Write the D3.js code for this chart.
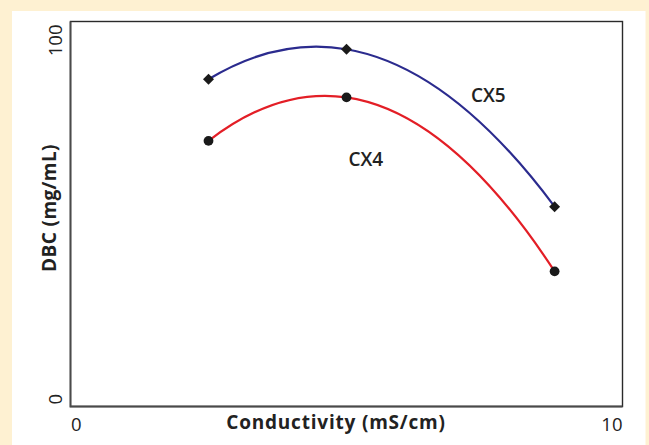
<!DOCTYPE html>
<html><head><meta charset="utf-8">
<script src="https://cdn.jsdelivr.net/npm/d3@7"></script>
<style>
html,body{margin:0;padding:0;background:#FEF1D2;}
svg{display:block;}
</style></head>
<body>
<svg id="chart" width="649" height="445"></svg>
<script>
const conductivity = [2.5, 5.0, 8.77];
const cx5 = [85.0, 92.8, 51.9];
const cx4 = [69.0, 80.3, 35.1];
const seriesNames = ["CX5", "CX4"];
const xTicks = [0, 10];
const yTicks = [0, 100];
const xTitle = "Conductivity (mS/cm)";
const yTitle = "DBC (mg/mL)";

const svg = d3.select("#chart");
const W = 649, H = 445;
const m = {left: 70.5, top: 21.5, right: 622.5, bottom: 406.5};
const font = "'Open Sans', 'Noto Sans', sans-serif";

svg.append("rect").attr("width", W).attr("height", H).attr("fill", "#FEF1D2");
svg.append("rect").attr("x", 12).attr("y", 11).attr("width", 633.5).attr("height", H - 11).attr("fill", "#fff");

const x = d3.scaleLinear().domain([0, 10]).range([m.left, m.right]);
const y = d3.scaleLinear().domain([0, 100]).range([m.bottom, m.top]);

// frame
svg.append("rect").attr("x", m.left).attr("y", m.top)
  .attr("width", m.right - m.left).attr("height", m.bottom - m.top)
  .attr("fill", "none").attr("stroke", "#2a2a2a").attr("stroke-width", 1.4);
svg.append("path").attr("d", `M${m.left},${m.top}V${m.bottom}H${m.right}`)
  .attr("fill", "none").attr("stroke", "#4a4a4a").attr("stroke-width", 1.8);

// tick labels
svg.append("g").selectAll("text").data(xTicks).join("text")
  .attr("x", (d, i) => i === 0 ? x(d) + 0.5 : x(d))
  .attr("y", 430.5)
  .attr("text-anchor", (d, i) => i === 0 ? "start" : "end")
  .attr("font-family", font).attr("font-size", 18.5).attr("fill", "#222")
  .text(d => d);
svg.append("g").selectAll("text").data(yTicks).join("text")
  .attr("transform", (d, i) => `translate(61.5,${i === 0 ? y(d) - 2 : y(d) + 3}) rotate(-90)`)
  .attr("text-anchor", (d, i) => i === 0 ? "start" : "end")
  .attr("font-family", font).attr("font-size", 18.5).attr("fill", "#222")
  .text(d => d);

// axis titles
svg.append("text").attr("x", 336).attr("y", 429).attr("text-anchor", "middle")
  .attr("font-family", font).attr("font-size", 19).attr("font-weight", 700).attr("fill", "#222")
  .attr("letter-spacing", 0.8)
  .text(xTitle);
svg.append("text").attr("transform", "translate(56,208) rotate(-90)").attr("text-anchor", "middle")
  .attr("font-family", font).attr("font-size", 19).attr("font-weight", 700).attr("fill", "#222")
  .attr("letter-spacing", 0.4)
  .text(yTitle);

// Custom d3 curve: smooth quadratic (parabolic) interpolation through the points,
// drawn as exact quadratic Bezier segments.
function CurveParabola(context) { this._context = context; }
CurveParabola.prototype = {
  areaStart() { this._line = 0; },
  areaEnd() { this._line = NaN; },
  lineStart() { this._x = []; this._y = []; },
  point(px, py) { this._x.push(+px); this._y.push(+py); },
  lineEnd() {
    const X = this._x, Y = this._y, n = X.length, c = this._context;
    if (!n) return;
    c.moveTo(X[0], Y[0]);
    if (n < 3) { for (let i = 1; i < n; i++) c.lineTo(X[i], Y[i]); return; }
    for (let i = 0; i < n - 1; i++) {
      const k = Math.min(Math.max(i - (i > 0 && i === n - 2 ? 1 : 0), 0), n - 3);
      const x0 = X[k], x1 = X[k + 1], x2 = X[k + 2];
      const y0 = Y[k], y1 = Y[k + 1], y2 = Y[k + 2];
      const a = ((y2 - y1) / (x2 - x1) - (y1 - y0) / (x1 - x0)) / (x2 - x0);
      const b = (y1 - y0) / (x1 - x0) - a * (x0 + x1);
      const slope = 2 * a * X[i] + b;
      const h = X[i + 1] - X[i];
      c.quadraticCurveTo(X[i] + h / 2, Y[i] + slope * h / 2, X[i + 1], Y[i + 1]);
    }
  }
};
const curveParabola = context => new CurveParabola(context);

const line = d3.line().x(d => x(d[0])).y(d => y(d[1])).curve(curveParabola);
const d5 = conductivity.map((c, i) => [c, cx5[i]]);
const d4 = conductivity.map((c, i) => [c, cx4[i]]);

svg.append("path").attr("d", line(d5)).attr("fill", "none").attr("stroke", "#2B2B8E").attr("stroke-width", 2.2);
svg.append("path").attr("d", line(d4)).attr("fill", "none").attr("stroke", "#E31E26").attr("stroke-width", 2.2);

svg.append("g").selectAll("path").data(d5).join("path")
  .attr("d", d3.symbol(d3.symbolSquare, 60)())
  .attr("transform", d => `translate(${x(d[0])},${y(d[1])}) rotate(45)`)
  .attr("fill", "#1a1a1a");
svg.append("g").selectAll("circle").data(d4).join("circle")
  .attr("cx", d => x(d[0])).attr("cy", d => y(d[1])).attr("r", 4.9)
  .attr("fill", "#1a1a1a");

// series labels
svg.append("text").attr("x", 471).attr("y", 102).attr("font-family", font).attr("font-size", 19)
  .attr("font-weight", 600).attr("fill", "#222").text(seriesNames[0]);
svg.append("text").attr("x", 348.5).attr("y", 166).attr("font-family", font).attr("font-size", 19)
  .attr("font-weight", 600).attr("fill", "#222").text(seriesNames[1]);
</script>
</body></html>
